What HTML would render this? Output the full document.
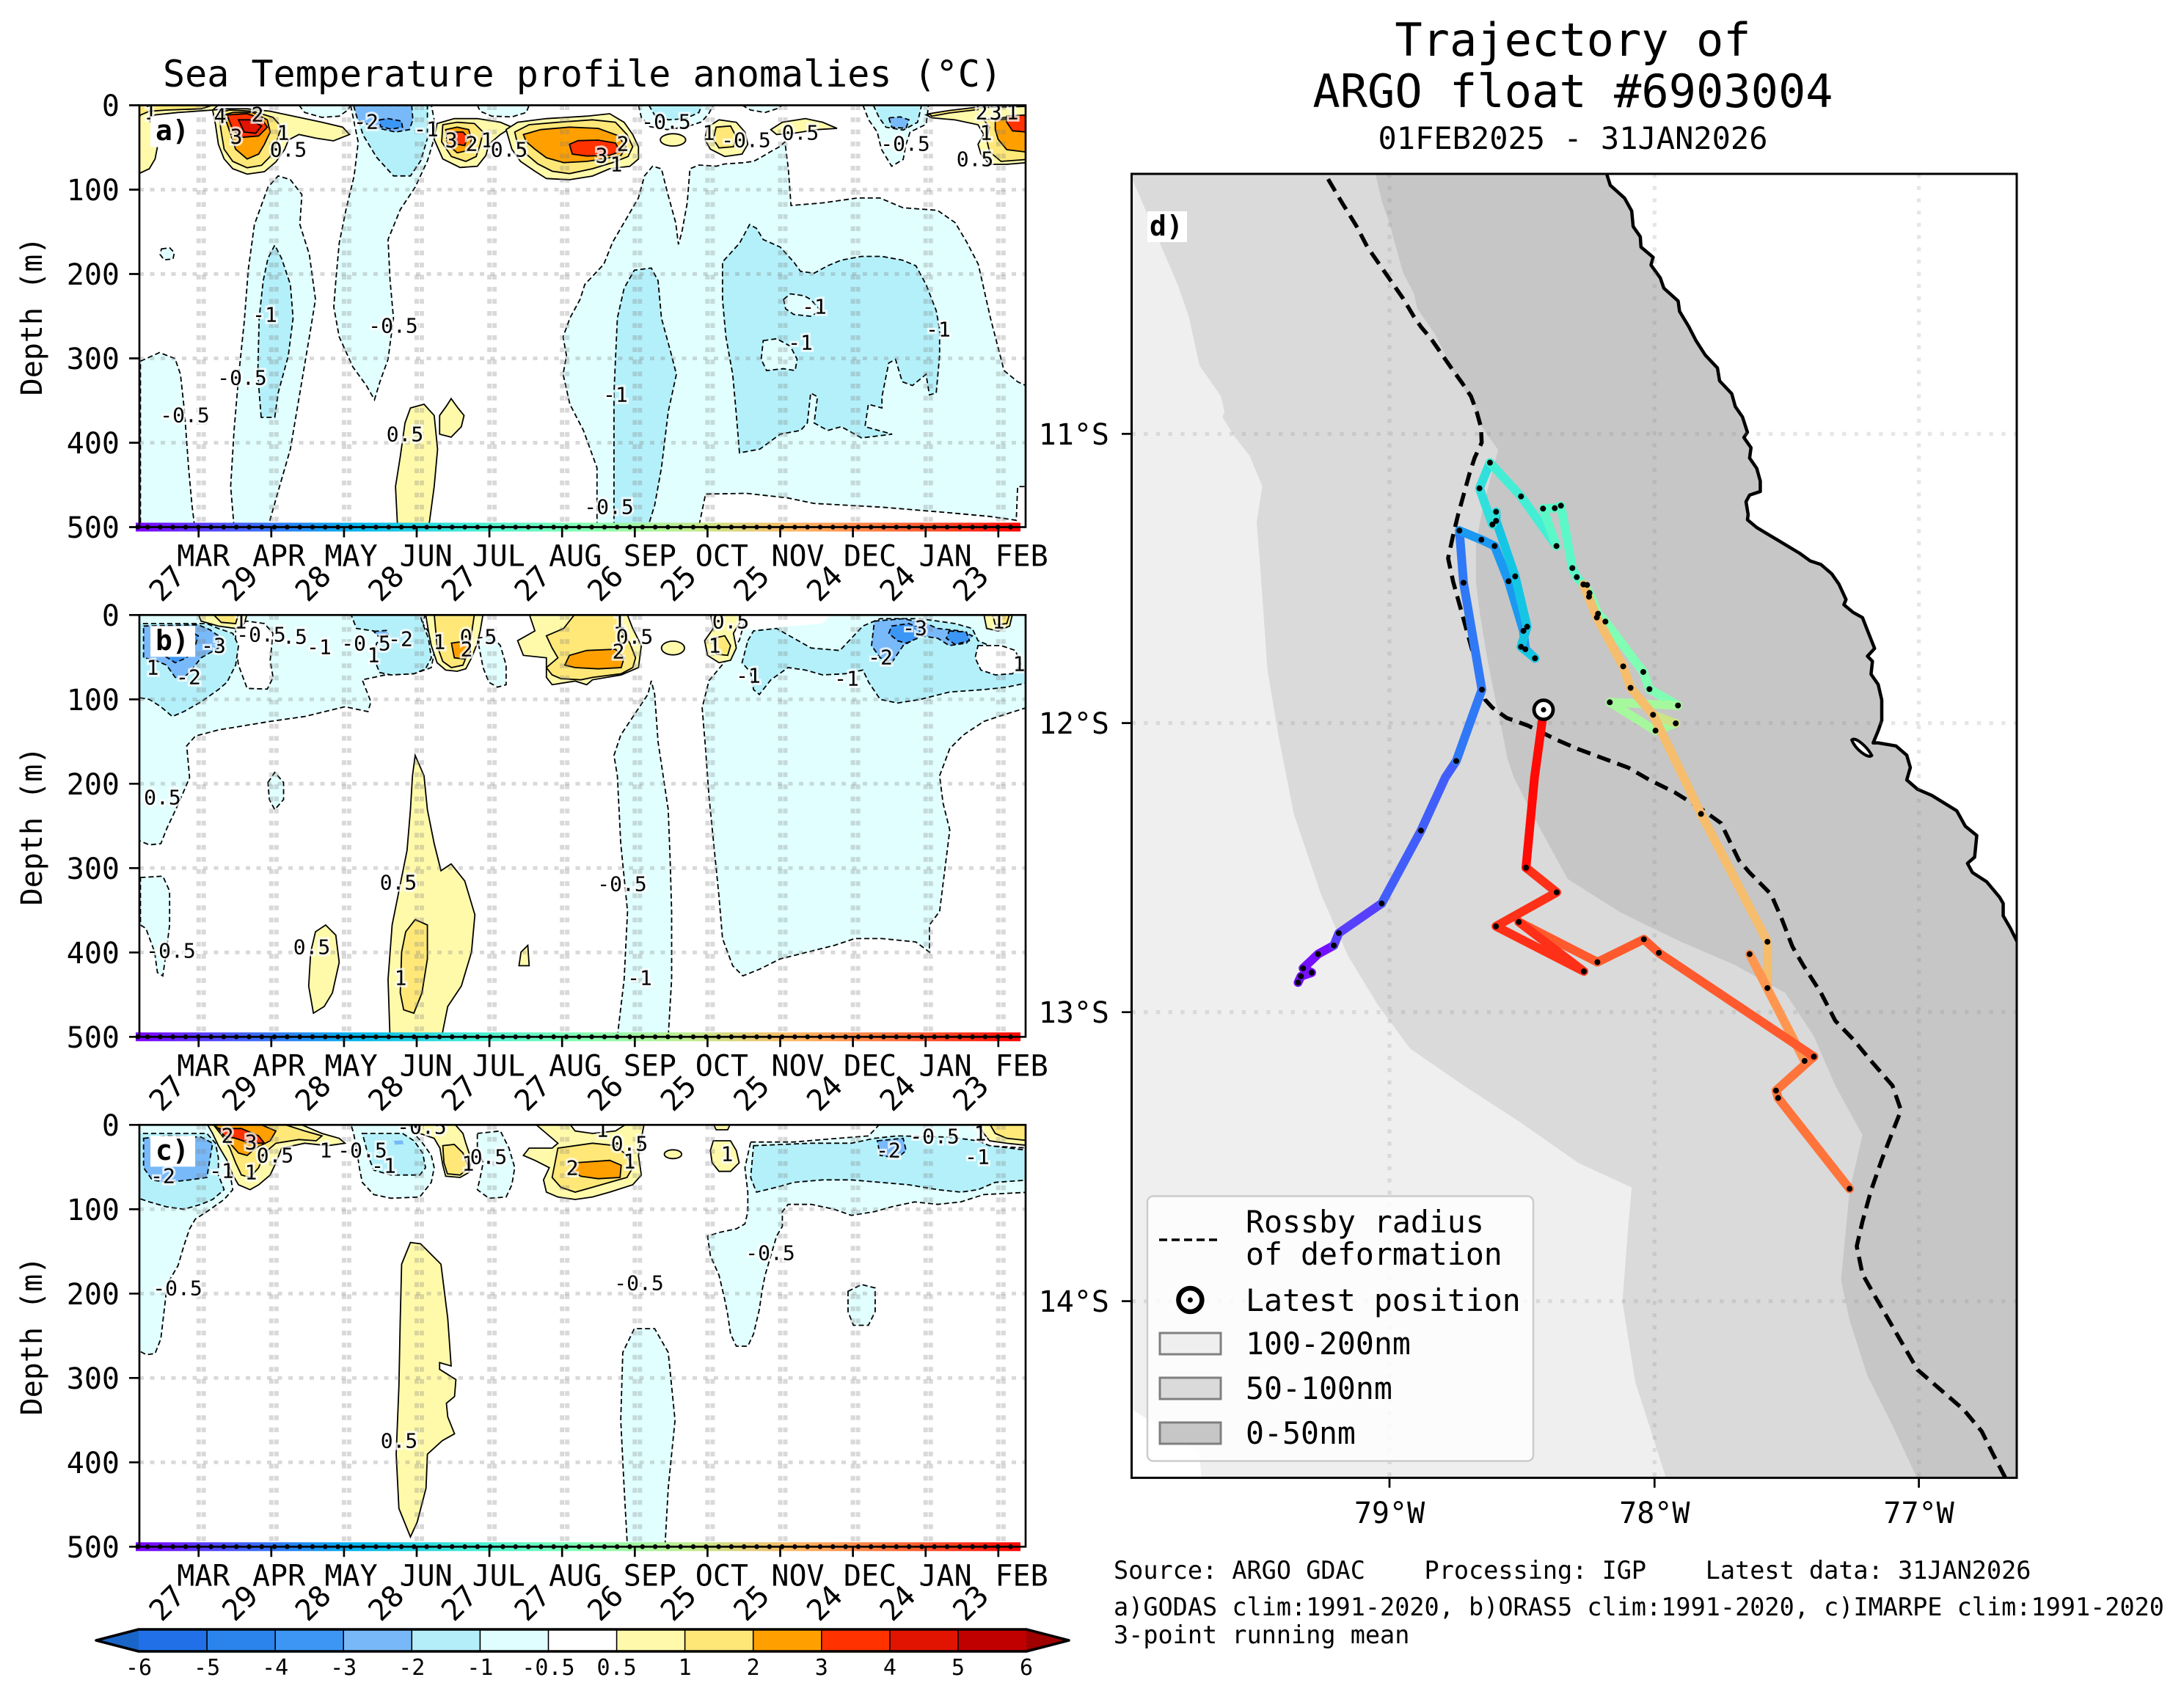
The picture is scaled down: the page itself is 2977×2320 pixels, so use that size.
<!DOCTYPE html>
<html><head><meta charset="utf-8">
<style>
html,body{margin:0;padding:0;background:#fff}
svg{display:block}
text{font-family:"DejaVu Sans Mono","Liberation Mono",monospace;fill:#000}
.n05{fill:#e1ffff}.n1{fill:#b4f0fa}.n2{fill:#78b9fa}.n3{fill:#3c96f5}
.p05{fill:#fffaaa}.p1{fill:#ffe878}.p2{fill:#ffa000}.p3{fill:#ff3200}.p4{fill:#e11400}
.wh{fill:#fff}
.neg{stroke:#000;stroke-width:1.8;stroke-dasharray:7 4;vector-effect:non-scaling-stroke}
.pos{stroke:#000;stroke-width:1.8;vector-effect:non-scaling-stroke}
.cl{font-size:28px;text-anchor:middle;dominant-baseline:central;paint-order:stroke;stroke:#fff;stroke-width:6px;stroke-opacity:.75}
.tk{font-size:40px}
.ns{vector-effect:non-scaling-stroke}
</style></head><body>
<svg xmlns="http://www.w3.org/2000/svg" width="2977" height="2320" viewBox="0 0 2977 2320">
<defs>
<linearGradient id="rb" x1="0" x2="1" y1="0" y2="0">
<stop offset="0" stop-color="#8000ff"/><stop offset="0.125" stop-color="#4062fa"/><stop offset="0.25" stop-color="#00b4ec"/><stop offset="0.375" stop-color="#40ecd4"/><stop offset="0.5" stop-color="#80ffb4"/><stop offset="0.625" stop-color="#bfec8e"/><stop offset="0.75" stop-color="#ffb462"/><stop offset="0.875" stop-color="#ff6232"/><stop offset="1" stop-color="#ff0000"/>
</linearGradient>
<clipPath id="ca"><rect x="190" y="143.5" width="1208" height="575"/></clipPath>
<clipPath id="cb"><rect x="190" y="838.3" width="1208" height="575"/></clipPath>
<clipPath id="cc"><rect x="190" y="1533.3" width="1208" height="575"/></clipPath>
<clipPath id="cm"><rect x="1542.5" y="237" width="1206.5" height="1777.4"/></clipPath>
<g id="grid" fill="none" stroke="rgba(128,128,128,0.3)">
<path stroke-width="6" stroke-dasharray="6.5 10" d="M270.7 0V575M277.7 0V575M369.8 0V575M376.8 0V575M468.9 0V575M475.9 0V575M568 0V575M575 0V575M667.1 0V575M674.1 0V575M766.2 0V575M773.2 0V575M865.3 0V575M872.3 0V575M964.4 0V575M971.4 0V575M1063.5 0V575M1070.5 0V575M1162.6 0V575M1169.6 0V575M1261.7 0V575M1268.7 0V575M1360.8 0V575M1367.8 0V575"/>
<path stroke-width="5" stroke-dasharray="6 8.5" d="M190 115H1398M190 230H1398M190 345H1398M190 460H1398"/>
</g>
<g id="axdeco">
<rect x="185" y="569" width="1206" height="12" fill="url(#rb)"/>
<line x1="187.7" y1="575" x2="188" y2="575" stroke="#000" stroke-width="6.5" stroke-linecap="round"/>
<line x1="201.1" y1="575" x2="1384" y2="575" stroke="#000" stroke-width="6.5" stroke-linecap="round" stroke-dasharray="0 17.3"/>
<rect x="190" y="0" width="1208" height="575" fill="none" stroke="#000" stroke-width="2.7"/>
<path stroke="#000" stroke-width="2.7" d="M176 0H190M176 115H190M176 230H190M176 345H190M176 460H190M176 575H190M270.7 575v14M369.8 575v14M468.9 575v14M568 575v14M667.1 575v14M766.2 575v14M865.3 575v14M964.4 575v14M1063.5 575v14M1162.6 575v14M1261.7 575v14M1360.8 575v14"/>
</g>
</defs>

<!-- ============ PANEL A ============ -->
<g clip-path="url(#ca)">
<g transform="matrix(0.924745 0 0 0.510204 0 0)">
<polygon class="n05 neg" points="207,965 235,942 258,958 266,1000 272,1100 278,1250 283,1350 287,1408 207,1408"/>
<polygon class="n05 neg" points="238,665 250,662 257,675 255,692 242,694 236,680"/>
<polygon class="n05 neg" points="345,1408 340,1300 345,1150 352,1000 360,860 366,720 375,600 395,500 410,470 428,480 445,520 442,600 456,680 465,800 456,900 442,1050 428,1200 412,1300 395,1408"/>
<polygon class="n05 neg" points="517,282 528,380 522,470 510,560 500,650 495,750 492,820 500,900 520,980 540,1030 552,1068 560,1020 572,960 580,850 575,750 572,640 590,560 612,500 630,430 640,370 640,320 636,282"/>
<polygon class="n05 neg" points="880,1408 880,1250 860,1150 840,1080 830,1000 835,950 830,900 840,850 855,800 862,760 890,706 903,647 924,582 941,529 950,470 962,444 975,451 984,516 996,595 1000,653 1005,621 1013,542 1017,451 1030,441 1056,444 1068,438 1094,435 1111,431 1124,418 1136,405 1149,392 1157,379 1162,451 1166,549 1213,542 1264,529 1297,529 1331,555 1382,562 1408,595 1425,647 1442,706 1460,850 1470,920 1480,990 1500,1020 1512,1030 1512,1300 1500,1300 1498,1390 1460,1380 1400,1370 1300,1355 1200,1345 1160,1330 1100,1318 1040,1320 1030,1408"/>
<polygon class="n1 neg" points="385,1115 380,1000 382,850 388,750 395,690 405,655 415,690 428,760 432,850 425,950 410,1050 405,1115"/>
<polygon class="n1 neg" points="522,282 535,360 555,420 580,470 605,470 620,430 630,370 630,282"/>
<polygon class="n1 neg" points="905,1408 905,1200 905,1050 910,850 920,770 935,722 960,716 970,750 975,850 990,950 997,1000 985,1100 975,1250 965,1350 955,1408"/>
<polygon class="n1 neg" points="1090,1210 1085,1100 1080,1000 1070,900 1065,800 1065,700 1075,680 1090,650 1105,600 1115,610 1125,640 1150,660 1170,700 1180,725 1200,730 1220,710 1240,695 1270,685 1300,685 1330,695 1350,710 1365,760 1380,830 1385,880 1385,950 1380,1050 1370,1055 1365,1000 1345,1030 1330,1020 1320,960 1310,970 1300,1060 1300,1090 1280,1080 1275,1140 1315,1160 1270,1170 1240,1140 1220,1150 1200,1130 1205,1060 1195,1050 1190,1130 1180,1150 1150,1160 1120,1200"/>
<polygon class="n05 neg" points="1155,800 1165,785 1185,790 1195,800 1210,830 1195,845 1170,840 1158,825"/>
<polygon class="n05 neg" points="1125,910 1145,905 1165,925 1175,960 1172,990 1155,985 1130,990 1122,960"/>
<polygon class="p05 pos" points="586,1408 583,1300 590,1220 597,1130 605,1090 625,1080 640,1110 645,1200 640,1300 632,1408"/>
<polygon class="p05 pos" points="648,1110 658,1085 665,1065 675,1090 684,1110 680,1140 665,1168 648,1160"/>
</g>
<g transform="matrix(0.784425 0 0 0.333333 180 130)">
<polygon class="n05 neg" points="290,40 300,70 330,90 360,85 375,60 380,40"/>
<polygon class="n05 neg" points="600,40 605,65 625,85 660,88 685,70 690,40"/>
<polygon class="n05 neg" points="880,40 885,90 900,128 930,140 965,128 990,108 1002,75 1010,40"/>
<polygon class="n1 neg" points="898,40 908,80 932,100 962,95 985,70 990,40"/>
<polygon class="n05 neg" points="1060,40 1075,60 1100,70 1120,55 1130,40"/>
<polygon class="n05 neg" points="1270,40 1280,100 1295,150 1302,220 1320,290 1340,262 1345,200 1352,150 1380,118 1384,40"/>
<polygon class="n1 neg" points="1288,40 1298,90 1310,130 1340,142 1365,110 1372,40"/>
<polygon class="n2 neg" points="1315,92 1320,130 1345,135 1350,100 1335,88"/>
<polygon class="n2 neg" points="385,42 392,100 420,130 458,150 482,140 488,100 486,42"/>
<polygon class="n3 neg" points="430,100 445,95 468,105 470,130 450,138 432,128"/>
<polygon class="p05 pos" points="12,40 150,40 140,60 80,70 40,80 30,100 40,140 45,200 40,260 30,300 12,320"/>
<polygon class="p1 pos" points="12,40 140,40 120,55 60,60 30,65 15,80 12,90"/>
<polygon class="p05 pos" points="140,60 145,120 150,200 160,260 175,300 200,322 230,312 250,272 265,222 272,182 290,160 320,175 350,186 378,160 366,130 330,110 300,95 270,80 240,65 200,55 165,55"/>
<polygon class="p1 pos" points="150,70 155,150 160,220 175,270 200,296 225,286 240,250 250,200 255,160 260,130 245,90 210,65 170,60"/>
<polygon class="p2 pos" points="160,80 170,150 180,220 200,260 220,240 230,200 240,150 235,100 210,70 175,70"/>
<polygon class="p3 pos" points="165,80 175,140 190,172 220,166 235,130 225,95 200,75"/>
<polygon class="p4 pos" points="185,100 195,150 215,155 225,125 205,100"/>
<polygon class="p05 pos" points="530,115 525,180 540,260 570,295 600,290 615,245 620,200 640,160 660,130 640,110 600,95 560,95"/>
<polygon class="p1 pos" points="540,120 538,190 555,250 580,270 598,250 605,200 610,150 595,115 565,110"/>
<polygon class="p2 pos" points="545,140 548,200 565,235 585,225 590,180 585,140 565,130"/>
<polygon class="p3 pos" points="560,150 565,200 578,205 583,170 575,150"/>
<polygon class="p05 pos" points="650,140 670,110 720,95 790,85 830,75 855,110 870,160 880,210 880,260 865,290 830,300 800,330 760,345 720,340 700,310 675,270 660,220 655,180"/>
<polygon class="p1 pos" points="665,150 690,120 740,110 800,100 840,110 860,160 870,210 862,250 835,275 800,300 760,320 730,310 705,280 685,240 670,200"/>
<polygon class="p2 pos" points="680,160 710,140 760,130 810,135 845,165 858,210 850,245 820,260 790,270 750,275 720,255 700,220 685,190"/>
<polygon class="p3 pos" points="760,200 775,185 810,183 840,195 848,230 830,245 790,248 765,240"/>
<ellipse class="p05 pos" cx="940" cy="182" rx="22" ry="25"/>
<polygon class="p05 pos" points="1000,130 1020,100 1050,110 1065,150 1070,200 1060,240 1030,250 1005,220 995,180"/>
<polygon class="p1 pos" points="1015,130 1040,125 1050,170 1045,210 1020,215 1010,180"/>
<polygon class="p05 pos" points="1110,140 1130,110 1170,95 1200,110 1225,135 1190,140 1150,155 1120,160"/>
<polygon class="p05 pos" points="1380,80 1430,65 1470,50 1555,45 1555,275 1520,282 1490,282 1475,240 1470,200 1480,160 1470,120 1430,100 1390,92"/>
<polygon class="p1 pos" points="1480,100 1555,80 1555,262 1510,270 1490,230 1485,180 1490,130"/>
<polygon class="p2 pos" points="1500,100 1555,90 1555,232 1520,222 1505,180 1500,140"/>
<polygon class="p3 pos" points="1520,85 1555,80 1555,150 1530,145 1520,110"/>
<polygon class="p1 pos" points="1385,75 1420,62 1470,48 1470,58 1420,72 1390,85"/>
</g>
<use href="#grid" y="143.5"/>
<g class="cl">
<text x="205" y="153">1</text><text x="300" y="158">4</text><text x="351" y="156">2</text><text x="322" y="186">3</text><text x="386" y="181">1</text><text x="393" y="204">0.5</text>
<text x="499" y="166">-2</text><text x="581" y="176">-1</text><text x="615" y="191">3</text><text x="643" y="196">2</text><text x="664" y="191">1</text><text x="694" y="204">0.5</text>
<text x="820" y="212">3</text><text x="840" y="224">1</text><text x="849" y="196">2</text><text x="908" y="166">-0.5</text><text x="966" y="181">1</text><text x="1017" y="191">-0.5</text><text x="1091" y="181">0.5</text>
<text x="1234" y="196">-0.5</text><text x="1329" y="217">0.5</text><text x="1338" y="153">2</text><text x="1357" y="153">3</text><text x="1380" y="153">1</text><text x="1344" y="181">1</text>
<text x="1110" y="418">-1</text><text x="1091" y="467">-1</text><text x="1279" y="449">-1</text><text x="361" y="429">-1</text><text x="536" y="444">-0.5</text><text x="330" y="515">-0.5</text><text x="252" y="566">-0.5</text>
<text x="552" y="592">0.5</text><text x="839" y="538">-1</text><text x="830" y="691">-0.5</text>
</g>
</g>
<use href="#axdeco" y="143.5"/>
<rect x="205" y="158.5" width="61" height="42" fill="#fff"/>
<text x="212" y="191" font-size="38" font-weight="bold">a)</text>

<!-- ============ PANEL B ============ -->
<g clip-path="url(#cb)">
<g transform="matrix(0.924745 0 0 0.924745 0 780)">
<polygon class="n05 neg" points="1100,63 1512,63 1512,200 1480,210 1450,220 1420,240 1400,260 1385,300 1390,340 1400,380 1395,420 1390,460 1385,500 1370,520 1370,560 1350,545 1300,540 1260,540 1230,550 1190,560 1150,570 1120,585 1095,595 1080,580 1065,540 1060,480 1055,430 1050,380 1045,330 1040,260 1035,200 1045,160 1070,130 1090,100"/>
<polygon class="n05 neg" points="910,685 920,600 925,500 915,400 910,300 905,270 915,240 935,210 955,180 960,160 965,180 970,250 985,350 988,430 990,500 990,600 985,685"/>
<polygon class="n05 neg" points="207,450 240,448 250,470 250,520 245,560 240,595 232,590 228,560 215,525 207,520"/>
<polygon class="n05 neg" points="395,310 405,295 418,310 418,335 405,350 397,335"/>
<polygon class="p05 pos" points="455,610 458,560 465,530 480,520 495,535 500,575 490,620 478,640 462,650"/>
<polygon class="p05 pos" points="575,690 572,600 578,520 590,460 600,410 605,350 608,300 612,270 625,300 630,350 640,400 650,440 665,430 685,455 700,505 695,560 680,610 660,640 650,690"/>
<polygon class="p1 pos" points="590,620 592,560 598,530 612,512 630,520 630,570 622,620 610,650 595,645"/>
<polygon class="p05 pos" points="765,580 768,560 778,550 780,580"/>
</g>
<g transform="matrix(0.784425 0 0 0.333333 180 830)">
<polygon class="n05 neg" points="5,20 510,20 505,60 520,110 525,180 520,240 490,265 440,270 400,290 415,380 410,420 370,400 300,440 240,460 150,495 110,520 95,560 100,690 80,800 60,900 50,960 30,965 5,940"/>
<polygon class="wh neg" points="180,60 200,50 230,60 245,100 240,210 245,280 235,328 200,325 185,230 180,150"/>
<polygon class="n1 neg" points="5,60 130,60 150,80 175,100 185,150 180,230 165,300 150,330 120,380 90,420 70,440 50,400 30,370 5,360"/>
<polygon class="n2 neg" points="20,70 115,65 135,85 150,110 150,160 120,200 100,260 85,290 75,280 60,230 40,210 20,200"/>
<polygon class="n3 neg" points="40,100 100,90 115,110 110,150 95,200 75,220 55,190 40,150"/>
<polygon class="n1 neg" points="380,20 500,20 505,60 515,120 520,200 510,245 490,265 450,270 430,260 420,200 425,140 440,110 420,90 390,80"/>
<polygon class="n2 neg" points="420,92 442,88 446,106 428,112"/>
<polygon class="n05 neg" points="600,120 625,110 640,150 650,230 650,310 635,320 620,300 610,240 605,180"/>
<polygon class="wh" points="1060,20 1215,20 1200,60 1120,75 1075,85 1062,60"/>
<polygon class="n1 neg" points="1070,130 1080,90 1120,80 1150,120 1180,160 1230,170 1270,70 1300,40 1370,40 1430,60 1460,80 1470,130 1500,160 1520,200 1550,250 1560,300 1520,320 1480,330 1420,340 1370,370 1330,385 1300,370 1280,300 1270,250 1240,265 1200,270 1170,250 1140,240 1110,290 1090,350 1080,330 1075,260 1060,220"/>
<polygon class="n2 neg" points="1290,50 1340,40 1380,60 1400,80 1440,90 1460,110 1450,140 1420,150 1400,120 1370,110 1340,150 1320,220 1300,200 1285,150"/>
<polygon class="n3 neg" points="1320,70 1350,60 1370,80 1365,120 1345,140 1330,130 1315,100"/>
<polygon class="n3 neg" points="1420,90 1450,95 1455,130 1430,145 1415,120"/>
<polygon class="wh neg" points="1470,150 1510,150 1535,170 1545,230 1530,265 1500,270 1475,250 1465,200"/>
<polygon class="p05 pos" points="115,20 200,20 195,60 180,80 150,70 120,50"/>
<polygon class="p1 pos" points="140,20 185,20 180,60 155,55"/>
<polygon class="p05 pos" points="510,20 610,20 605,90 600,140 590,200 580,245 565,255 545,250 530,220 520,150 515,90"/>
<polygon class="p1 pos" points="525,20 595,20 590,100 585,170 575,230 555,240 540,215 530,150"/>
<polygon class="p2 pos" points="555,140 585,130 588,175 578,205 560,200"/>
<polygon class="p05 pos" points="690,20 860,20 870,80 885,150 880,240 850,270 800,290 790,310 770,295 730,310 720,280 720,200 680,190 670,130 700,90"/>
<polygon class="p1 pos" points="770,20 845,20 850,90 865,140 875,200 870,240 850,265 800,280 780,290 745,285 730,270 720,240 740,200 730,160 720,110 750,80"/>
<polygon class="p2 pos" points="760,190 790,170 840,165 855,200 850,240 810,245 770,240 752,230"/>
<ellipse class="p05 pos" cx="940" cy="160" rx="20" ry="28"/>
<polygon class="p05 pos" points="1005,20 1060,20 1055,60 1045,100 1050,160 1040,210 1020,220 1000,190 995,130 1010,80"/>
<polygon class="p1 pos" points="1010,120 1030,110 1040,150 1035,190 1015,185"/>
<polygon class="p05 pos" points="1480,20 1530,20 1525,70 1505,90 1485,80"/>
<polygon class="p1 pos" points="1495,20 1525,20 1520,60 1500,65"/>
</g>
<use href="#grid" y="838.3"/>
<g class="cl">
<text x="328" y="847">1</text><text x="356" y="865">-0.5</text><text x="402" y="868">.5</text><text x="435" y="882">-1</text><text x="499" y="877">-0.5</text><text x="546" y="871">-2</text><text x="509" y="893">1</text>
<text x="291" y="880">-3</text><text x="208" y="910">1</text><text x="257" y="923">-2</text><text x="599" y="875">1</text><text x="652" y="868">0.5</text><text x="636" y="885">2</text>
<text x="844" y="847">1</text><text x="865" y="868">0.5</text><text x="843" y="888">2</text><text x="996" y="847">0.5</text><text x="974" y="880">1</text>
<text x="1020" y="921">-1</text><text x="1154" y="925">-1</text><text x="1200" y="896">-2</text><text x="1247" y="856">-3</text><text x="1361" y="847">1</text><text x="1389" y="905">1</text>
<text x="213" y="1087">-0.5</text><text x="543" y="1203">0.5</text><text x="848" y="1205">-0.5</text><text x="425" y="1291">0.5</text><text x="233" y="1296">-0.5</text><text x="546" y="1333">1</text><text x="872" y="1333">-1</text>
</g>
</g>
<use href="#axdeco" y="838.3"/>
<rect x="205" y="853.3" width="61" height="42" fill="#fff"/>
<text x="212" y="886" font-size="38" font-weight="bold">b)</text>

<!-- ============ PANEL C ============ -->
<g clip-path="url(#cc)">
<g transform="matrix(0.924745 0 0 0.924745 0 780)">
<polygon class="n05 neg" points="925,1440 920,1350 915,1250 918,1150 935,1115 965,1115 985,1150 990,1200 995,1250 985,1350 980,1440"/>
<polygon class="n05 neg" points="1250,1060 1270,1050 1290,1055 1290,1090 1280,1110 1258,1110 1250,1090"/>
<polygon class="p05 pos" points="605,1422 588,1380 584,1300 588,1200 590,1100 592,1020 605,988 620,990 650,1020 660,1100 665,1170 648,1165 648,1175 672,1190 670,1215 658,1225 660,1245 670,1270 652,1280 630,1300 628,1350 615,1400"/>
</g>
<g transform="matrix(0.784425 0 0 0.333333 180 1525)">
<polygon class="n05 neg" points="5,20 180,20 175,60 160,100 165,150 170,220 175,290 160,330 130,380 110,410 100,450 90,520 80,600 65,660 60,700 55,800 50,900 40,960 25,965 5,940"/>
<polygon class="n1 neg" points="5,60 130,60 145,100 150,160 150,230 160,290 140,330 120,350 90,370 60,360 30,340 5,320"/>
<polygon class="n2 neg" points="20,80 60,70 120,75 140,100 135,170 130,240 100,250 60,260 35,250 20,200"/>
<polygon class="n05 neg" points="380,20 480,20 490,60 505,100 520,150 525,200 520,260 500,320 450,325 420,310 400,260 395,200 390,120 385,60"/>
<polygon class="n1 neg" points="400,60 470,60 490,90 505,140 510,200 500,230 450,230 420,210 410,150 405,100"/>
<polygon class="n2" points="455,90 470,88 472,104 457,106"/>
<polygon class="n05 neg" points="600,60 640,50 655,120 665,200 660,270 650,320 620,325 600,290 605,240 610,180 600,120"/>
<polygon class="n05 neg" points="1075,95 1150,95 1200,85 1280,70 1300,20 1470,20 1480,110 1560,120 1560,300 1480,310 1440,340 1400,350 1360,340 1320,360 1290,380 1250,395 1220,370 1180,350 1140,350 1130,380 1130,440 1120,480 1110,560 1100,640 1095,700 1090,780 1080,880 1070,930 1050,930 1040,880 1035,800 1030,740 1020,640 1005,560 1000,480 1020,465 1050,450 1065,430 1070,380 1070,300 1065,200"/>
<polygon class="n1 neg" points="1080,110 1180,100 1250,100 1290,80 1330,70 1420,75 1470,90 1490,110 1560,130 1560,250 1500,260 1470,290 1440,300 1400,290 1350,270 1300,260 1250,250 1200,250 1150,260 1120,280 1085,300 1075,240 1078,160"/>
<polygon class="n2 neg" points="1295,90 1340,80 1345,130 1330,160 1300,150"/>
<polygon class="p05 pos" points="130,20 290,20 330,60 360,80 370,100 340,110 300,100 260,120 250,180 240,230 220,270 205,290 185,270 175,230 165,170 150,110 140,60"/>
<polygon class="p1 pos" points="140,20 260,20 300,50 330,70 320,90 290,85 250,100 230,140 220,200 205,240 190,230 180,180 170,120 160,80"/>
<polygon class="p2 pos" points="140,20 220,20 250,50 240,90 215,120 200,150 185,140 170,100 160,60"/>
<polygon class="p3 pos" points="150,40 190,40 220,70 230,100 205,100 180,80 160,70"/>
<polygon class="p05 pos" points="490,20 560,20 575,60 580,100 590,170 585,220 570,240 545,235 540,190 535,120 525,80 500,60"/>
<polygon class="p1 pos" points="540,110 560,105 575,140 585,200 570,230 548,225 542,180"/>
<polygon class="p05 pos" points="700,20 760,20 770,50 800,60 840,50 860,20 890,20 885,80 880,150 885,230 870,270 830,300 800,320 770,330 740,320 720,300 715,250 725,200 700,170 680,150 690,120 730,120 740,100 720,60"/>
<polygon class="p1 pos" points="740,120 800,100 840,110 860,150 870,200 860,240 830,260 800,280 770,300 745,280 730,240 735,180"/>
<polygon class="p2 pos" points="770,180 830,170 850,190 848,240 810,245 780,235 765,215"/>
<ellipse class="p05 pos" cx="940" cy="145" rx="15" ry="18"/>
<polygon class="p05 pos" points="1010,90 1040,90 1050,130 1055,180 1040,215 1020,215 1008,180 1005,130"/>
<polygon class="p05 pos" points="1010,20 1040,20 1035,45 1015,45"/>
<polygon class="p05 pos" points="1470,20 1560,20 1560,110 1520,100 1490,90 1480,60"/>
<polygon class="p1 pos" points="1490,20 1560,20 1560,90 1520,80 1500,60"/>
</g>
<use href="#grid" y="1533.3"/>
<g class="cl">
<text x="310" y="1548">2</text><text x="342" y="1557">3</text><text x="375" y="1575">0.5</text><text x="444" y="1568">1</text><text x="494" y="1568">-0.5</text><text x="523" y="1589">-1</text><text x="342" y="1598">1</text><text x="302" y="1596">-1</text><text x="222" y="1603">-2</text>
<text x="575" y="1536">-0.5</text><text x="638" y="1586">1</text><text x="666" y="1577">0.5</text>
<text x="821" y="1540">1</text><text x="858" y="1559">0.5</text><text x="780" y="1592">2</text><text x="858" y="1583">1</text><text x="991" y="1573">1</text>
<text x="1211" y="1568">-2</text><text x="1274" y="1549">-0.5</text><text x="1336" y="1545">1</text><text x="1332" y="1577">-1</text>
<text x="242" y="1756">-0.5</text><text x="871" y="1749">-0.5</text><text x="1050" y="1708">-0.5</text><text x="544" y="1964">0.5</text>
</g>
</g>
<use href="#axdeco" y="1533.3"/>
<rect x="205" y="1548.3" width="61" height="42" fill="#fff"/>
<text x="212" y="1581" font-size="38" font-weight="bold">c)</text>

<!-- ============ LEFT AXIS TEXT ============ -->
<text x="794" y="118" font-size="50" text-anchor="middle">Sea Temperature profile anomalies (°C)</text>
<g class="tk" text-anchor="end">
<text x="163" y="158">0</text><text x="163" y="273">100</text><text x="163" y="388">200</text><text x="163" y="503">300</text><text x="163" y="618">400</text><text x="163" y="733">500</text>
<text x="163" y="853">0</text><text x="163" y="968">100</text><text x="163" y="1083">200</text><text x="163" y="1198">300</text><text x="163" y="1313">400</text><text x="163" y="1428">500</text>
<text x="163" y="1548">0</text><text x="163" y="1663">100</text><text x="163" y="1778">200</text><text x="163" y="1893">300</text><text x="163" y="2008">400</text><text x="163" y="2123">500</text>
</g>
<g class="tk" text-anchor="middle">
<text transform="translate(57,431) rotate(-90)">Depth (m)</text>
<text transform="translate(57,1126) rotate(-90)">Depth (m)</text>
<text transform="translate(57,1821) rotate(-90)">Depth (m)</text>
</g>
<g class="tk" text-anchor="middle">
<g transform="translate(0,771.5)"><text x="277.4">MAR</text><text x="380.1">APR</text><text x="478.6">MAY</text><text x="580.7">JUN</text><text x="679.7">JUL</text><text x="784.2">AUG</text><text x="885.9">SEP</text><text x="983.9">OCT</text><text x="1087.5">NOV</text><text x="1186">DEC</text><text x="1288.6">JAN</text><text x="1392.6">FEB</text></g>
<g transform="translate(0,1466.3)"><text x="277.4">MAR</text><text x="380.1">APR</text><text x="478.6">MAY</text><text x="580.7">JUN</text><text x="679.7">JUL</text><text x="784.2">AUG</text><text x="885.9">SEP</text><text x="983.9">OCT</text><text x="1087.5">NOV</text><text x="1186">DEC</text><text x="1288.6">JAN</text><text x="1392.6">FEB</text></g>
<g transform="translate(0,2161.3)"><text x="277.4">MAR</text><text x="380.1">APR</text><text x="478.6">MAY</text><text x="580.7">JUN</text><text x="679.7">JUL</text><text x="784.2">AUG</text><text x="885.9">SEP</text><text x="983.9">OCT</text><text x="1087.5">NOV</text><text x="1186">DEC</text><text x="1288.6">JAN</text><text x="1392.6">FEB</text></g>
</g>
<g class="tk" text-anchor="end">
<g transform="translate(0,788)">
<text transform="translate(254.3,0) rotate(-45)">27</text><text transform="translate(353.9,0) rotate(-45)">29</text><text transform="translate(453.5,0) rotate(-45)">28</text><text transform="translate(553.1,0) rotate(-45)">28</text><text transform="translate(652.7,0) rotate(-45)">27</text><text transform="translate(752.3,0) rotate(-45)">27</text><text transform="translate(851.9,0) rotate(-45)">26</text><text transform="translate(951.5,0) rotate(-45)">25</text><text transform="translate(1051.1,0) rotate(-45)">25</text><text transform="translate(1150.7,0) rotate(-45)">24</text><text transform="translate(1250.3,0) rotate(-45)">24</text><text transform="translate(1349.9,0) rotate(-45)">23</text>
</g>
<g transform="translate(0,1482.8)">
<text transform="translate(254.3,0) rotate(-45)">27</text><text transform="translate(353.9,0) rotate(-45)">29</text><text transform="translate(453.5,0) rotate(-45)">28</text><text transform="translate(553.1,0) rotate(-45)">28</text><text transform="translate(652.7,0) rotate(-45)">27</text><text transform="translate(752.3,0) rotate(-45)">27</text><text transform="translate(851.9,0) rotate(-45)">26</text><text transform="translate(951.5,0) rotate(-45)">25</text><text transform="translate(1051.1,0) rotate(-45)">25</text><text transform="translate(1150.7,0) rotate(-45)">24</text><text transform="translate(1250.3,0) rotate(-45)">24</text><text transform="translate(1349.9,0) rotate(-45)">23</text>
</g>
<g transform="translate(0,2177.8)">
<text transform="translate(254.3,0) rotate(-45)">27</text><text transform="translate(353.9,0) rotate(-45)">29</text><text transform="translate(453.5,0) rotate(-45)">28</text><text transform="translate(553.1,0) rotate(-45)">28</text><text transform="translate(652.7,0) rotate(-45)">27</text><text transform="translate(752.3,0) rotate(-45)">27</text><text transform="translate(851.9,0) rotate(-45)">26</text><text transform="translate(951.5,0) rotate(-45)">25</text><text transform="translate(1051.1,0) rotate(-45)">25</text><text transform="translate(1150.7,0) rotate(-45)">24</text><text transform="translate(1250.3,0) rotate(-45)">24</text><text transform="translate(1349.9,0) rotate(-45)">23</text>
</g>
</g>

<!-- ============ COLORBAR ============ -->
<polygon points="189,2221 131,2236 189,2251" fill="#1a66c8"/>
<polygon points="1399,2221 1457,2236 1399,2251" fill="#a00000"/>
<rect x="189" y="2221" width="93.1" height="30" fill="#2170e8"/>
<rect x="282.1" y="2221" width="93.1" height="30" fill="#2a84ec"/>
<rect x="375.2" y="2221" width="93.1" height="30" fill="#3d96f4"/>
<rect x="468.2" y="2221" width="93.1" height="30" fill="#78b8f8"/>
<rect x="561.3" y="2221" width="93.1" height="30" fill="#b4eef8"/>
<rect x="654.4" y="2221" width="93.1" height="30" fill="#e0feff"/>
<rect x="747.5" y="2221" width="93.1" height="30" fill="#ffffff"/>
<rect x="840.6" y="2221" width="93.1" height="30" fill="#fff9ab"/>
<rect x="933.6" y="2221" width="93.1" height="30" fill="#ffe777"/>
<rect x="1026.7" y="2221" width="93.1" height="30" fill="#ffa000"/>
<rect x="1119.8" y="2221" width="93.1" height="30" fill="#ff3200"/>
<rect x="1212.9" y="2221" width="93.1" height="30" fill="#e01400"/>
<rect x="1305.9" y="2221" width="93.1" height="30" fill="#c00000"/>
<path stroke="#000" stroke-width="1.6" d="M282.1 2221v30M375.2 2221v30M468.2 2221v30M561.3 2221v30M654.4 2221v30M747.5 2221v30M840.6 2221v30M933.6 2221v30M1026.7 2221v30M1119.8 2221v30M1212.9 2221v30M1305.9 2221v30"/>
<polygon points="131,2236 189,2221 1399,2221 1457,2236 1399,2251 189,2251" fill="none" stroke="#000" stroke-width="3.5" stroke-linejoin="round"/>
<g font-size="30" text-anchor="middle">
<text x="189" y="2283">-6</text><text x="282.1" y="2283">-5</text><text x="375.2" y="2283">-4</text><text x="468.2" y="2283">-3</text><text x="561.3" y="2283">-2</text><text x="654.4" y="2283">-1</text><text x="747.5" y="2283">-0.5</text><text x="840.6" y="2283">0.5</text><text x="933.6" y="2283">1</text><text x="1026.7" y="2283">2</text><text x="1119.8" y="2283">3</text><text x="1212.9" y="2283">4</text><text x="1305.9" y="2283">5</text><text x="1399" y="2283">6</text>
</g>

<!-- ============ MAP ============ -->
<text x="2144" y="76" font-size="62" text-anchor="middle">Trajectory of</text>
<text x="2144" y="146" font-size="62" text-anchor="middle">ARGO float #6903004</text>
<text x="2144" y="203" font-size="42" text-anchor="middle">01FEB2025 - 31JAN2026</text>

<g clip-path="url(#cm)">
<rect x="1542.5" y="237" width="1206.5" height="1777.4" fill="#efefef"/>
<g transform="matrix(0.973806 0 0 0.701508 1450 0)">
<polygon fill="#dadada" points="95,330 95,345 140,490 160,555 175,615 190,710 220,770 225,800 222,810 240,850 260,885 278,945 270,1015 275,1100 280,1200 285,1300 300,1425.5 322,1581.5 360,1737.5 398,1857.5 440,1953.5 485,2037.5 560,2109.5 640,2181.5 720,2259.5 795,2307.5 790,2385.5 782,2529.5 800,2685.5 845,2880 1340,2880 1340,330"/>
<polygon fill="#fff" points="90,2733.5 190,2823.5 193,2880 90,2880"/>
<polygon fill="#c6c6c6" points="435,330 445,390 455,430 465,480 475,530 490,570 495,600 520,650 545,720 575,790 584,827 608,874 596,936 585,998 577,1055 577,1131 582,1188 592,1273 602,1345 613,1416 621,1473 630,1511 665,1605.5 705,1707.5 780,1773.5 860,1827.5 940,1875.5 1010,1929.5 1050,2013.5 1080,2109.5 1118,2205.5 1100,2313.5 1088,2487.5 1100,2565.5 1125,2673.5 1160,2769.5 1197,2880 1340,2880 1340,330"/>
<polygon fill="#fff" points="760,330 765,360 785,385 795,410 797,440 807,460 808,480 825,500 822,515 835,540 840,560 860,585 862,605 875,635 885,662 898,690 915,715 918,740 935,765 940,790 950,810 957,840 952,850 962,870 960,890 970,910 975,935 975,955 960,962 955,975 958,1000 957,1010 970,1025 1000,1050 1030,1075 1045,1090 1060,1097 1075,1115 1085,1135 1090,1150 1095,1165 1092,1175 1105,1190 1118,1200 1125,1225 1135,1260 1125,1275 1132,1285 1130,1310 1140,1330 1145,1360 1145,1400 1140,1420 1133,1443.5 1140,1443.5 1165,1449.5 1180,1467.5 1185,1491.5 1180,1515.5 1195,1533.5 1215,1545.5 1250,1575.5 1262,1605.5 1278,1623.5 1275,1665.5 1265,1677.5 1272,1695.5 1292,1713.5 1310,1743.5 1315,1755.5 1315,1779.5 1325,1803.5 1340,1845 1340,330"/>
<polyline class="ns" fill="none" stroke="#000" stroke-width="4.5" stroke-linejoin="round" points="758,330 760,338 765,360 785,385 795,410 797,440 807,460 808,480 825,500 822,515 835,540 840,560 860,585 862,605 875,635 885,662 898,690 915,715 918,740 935,765 940,790 950,810 957,840 952,850 962,870 960,890 970,910 975,935 975,955 960,962 955,975 958,1000 957,1010 970,1025 1000,1050 1030,1075 1045,1090 1060,1097 1075,1115 1085,1135 1090,1150 1095,1165 1092,1175 1105,1190 1118,1200 1125,1225 1135,1260 1125,1275 1132,1285 1130,1310 1140,1330 1145,1360 1145,1400 1140,1420 1133,1443.5 1140,1443.5 1165,1449.5 1180,1467.5 1185,1491.5 1180,1515.5 1195,1533.5 1215,1545.5 1250,1575.5 1262,1605.5 1278,1623.5 1275,1665.5 1265,1677.5 1272,1695.5 1292,1713.5 1310,1743.5 1315,1755.5 1315,1779.5 1325,1803.5 1340,1845"/>
<path class="ns" fill="#fff" stroke="#000" stroke-width="4" d="M1103,1438 C1108,1430 1125,1452 1131,1468 C1127,1475 1109,1458 1103,1438 Z"/>
</g>
<g fill="none" stroke="rgba(128,128,128,0.2)" stroke-width="5.3" stroke-dasharray="5.3 11.4">
<path d="M1894 237V2015M2255.3 237V2015M2615.6 237V2015M1542.5 591.4H2749M1542.5 985.6H2749M1542.5 1379.7H2749M1542.5 1773.6H2749"/>
</g>
<g transform="matrix(0.973806 0 0 0.701508 1450 0)" fill="none" stroke-linecap="round" stroke-linejoin="round">
<polyline class="ns" stroke="#000" stroke-width="5.5" stroke-dasharray="19 10" stroke-linecap="butt" points="370,348 390,395 410,440 425,480 440,510 460,550 475,580 490,615 500,635 515,660 530,690 545,720 558,745 570,770 578,800 584,830 585,860 575,890 568,920 560,960 552,1000 545,1040 538,1085 545,1130 555,1180 565,1230 575,1280 583,1330 590,1360 600,1375 620,1395 650,1410 690,1437.5 720,1455.5 755,1473.5 790,1491.5 820,1515.5 855,1539.5 890,1569.5 920,1599.5 945,1671.5 960,1695.5 990,1737.5 1005,1785.5 1020,1839.5 1035,1875.5 1060,1929.5 1080,1983.5 1105,2019.5 1130,2061.5 1160,2109.5 1172,2157.5 1160,2199.5 1145,2253.5 1130,2313.5 1118,2373.5 1110,2421.5 1118,2475.5 1135,2517.5 1150,2553.5 1170,2601.5 1195,2661.5 1225,2697.5 1260,2739.5 1285,2781.5 1300,2823.5 1318,2871.5 1322,2885"/>
<g class="ns" stroke-width="12">
<polyline class="ns" stroke="#7510ff" points="328,1909.1 332,1897.1 347,1889.9 335,1881.5 356,1853.9 378,1837.1"/>
<polyline class="ns" stroke="#5740fd" points="378,1837.1 385,1813.1 445,1755.5"/>
<polyline class="ns" stroke="#425efa" points="445,1755.5 500,1613.9 534,1511 549.4,1478.7"/>
<polyline class="ns" stroke="#3079f6" points="549.4,1478.7 585.3,1340 559.6,1132.3 553.8,1031"/>
<polyline class="ns" stroke="#1a98f2" points="553.8,1031 584.6,1048.7 603.1,1061 622.6,1129.4 643.5,1225.9 646.2,1261.5 659.6,1279.1"/>
<polyline class="ns" stroke="#14c6e4" points="659.6,1279.1 640.1,1256.8 648.6,1217.8 631.9,1119.9 605.2,1012.1 605.2,994.5"/>
<polyline class="ns" stroke="#30e0dc" points="605.2,994.5 600,1019.2 581.9,948.9 596.6,899"/>
<polyline class="ns" stroke="#44eed4" points="596.6,899 640.1,964.6 689.7,1061"/>
<polyline class="ns" stroke="#5cf8c8" points="689.7,1061 670.9,988.3 687.3,987.4 695.9,982.6 711.9,1103.8 718.1,1121.4 727.4,1135.6"/>
<polyline class="ns" stroke="#80ffb4" points="727.4,1135.6 735.9,1152.2 747.9,1192.6 758.2,1207.8 811.2,1305.7 819.8,1339 859.8,1370.8"/>
<polyline class="ns" stroke="#a6f89c" points="859.8,1370.8 764.3,1364.6 828.3,1419.7 856.7,1405.5"/>
<polyline class="ns" stroke="#cce386" points="856.7,1405.5 824.9,1388.9 793.4,1336.6 783.1,1294.8 746.2,1199.8 727.4,1135.6"/>
<polyline class="ns" stroke="#f5bd6c" points="727.4,1135.6 746.2,1199.8 783.1,1294.8 793.4,1336.6 824.9,1388.9 867.7,1511 892,1581.5 985,1829.9 985,1919.9"/>
<polyline class="ns" stroke="#ff964f" points="985,1919.9 960,1853.9 1037,2061.5 1050,2053.1"/>
<polyline class="ns" stroke="#ff743b" points="1050,2053.1 997,2119.1 1000,2133.5 1100,2309.9"/>
<polyline class="ns" stroke="#ff5a2d" points="1050,2053.1 833,1851.5 812,1825.1 747,1869.5 637,1791.5"/>
<polyline class="ns" stroke="#ff3018" points="637,1791.5 728,1887.5 605,1799.9 690,1733.9 647,1685.9"/>
<polyline class="ns" stroke="#ff0a05" points="647,1685.9 658.9,1511 671.9,1378.9"/>
</g>
<path class="ns" stroke="#000" stroke-width="8" d="M328,1909.1h.01M332,1897.1h.01M347,1889.9h.01M335,1881.5h.01M356,1853.9h.01M378,1837.1h.01M385,1813.1h.01M445,1755.5h.01M500,1613.9h.01M549.4,1478.7h.01M585.3,1340h.01M559.6,1132.3h.01M553.8,1031h.01M584.6,1048.7h.01M603.1,1061h.01M622.6,1129.4h.01M643.5,1225.9h.01M646.2,1261.5h.01M659.6,1279.1h.01M640.1,1256.8h.01M648.6,1217.8h.01M631.9,1119.9h.01M605.2,1012.1h.01M600,1019.2h.01M605.2,994.5h.01M581.9,948.9h.01M596.6,899h.01M640.1,964.6h.01M689.7,1061h.01M670.9,988.3h.01M687.3,987.4h.01M695.9,982.6h.01M711.9,1103.8h.01M718.1,1121.4h.01M727.4,1135.6h.01M732.5,1136.6h.01M735.9,1152.2h.01M735.2,1159.4h.01M747.9,1192.6h.01M746.2,1199.8h.01M758.2,1207.8h.01M783.1,1294.8h.01M811.2,1305.7h.01M793.4,1336.6h.01M819.8,1339h.01M764.3,1364.6h.01M859.8,1370.8h.01M824.9,1388.9h.01M856.7,1405.5h.01M828.3,1419.7h.01M892,1581.5h.01M985,1829.9h.01M960,1853.9h.01M985,1919.9h.01M1037,2061.5h.01M1050,2053.1h.01M997,2119.1h.01M1000,2133.5h.01M1100,2309.9h.01M833,1851.5h.01M812,1825.1h.01M747,1869.5h.01M728,1887.5h.01M637,1791.5h.01M605,1799.9h.01M690,1733.9h.01M647,1685.9h.01"/>
</g>
<circle cx="2104" cy="967.5" r="13" fill="#fff" stroke="#000" stroke-width="4.8"/>
<circle cx="2104" cy="967.5" r="3.6" fill="#000"/>
<rect x="1564" y="288" width="54" height="42" fill="#fff"/>
<text x="1567" y="321" font-size="38" font-weight="bold">d)</text>
<!-- legend -->
<rect x="1564" y="1630.5" width="526" height="361" rx="8" ry="8" fill="#fff" fill-opacity="0.8" stroke="#cccccc" stroke-width="2.5"/>
<line x1="1580" y1="1690" x2="1664" y2="1690" stroke="#000" stroke-width="3.5" stroke-dasharray="11 6"/>
<circle cx="1622.4" cy="1772" r="16" fill="#fff" stroke="#000" stroke-width="6.5"/>
<circle cx="1622.4" cy="1772" r="3.5" fill="#000"/>
<rect x="1581" y="1817" width="83" height="29" fill="#efefef" stroke="#808080" stroke-width="3"/>
<rect x="1581" y="1878" width="83" height="29" fill="#dadada" stroke="#808080" stroke-width="3"/>
<rect x="1581" y="1939" width="83" height="29" fill="#c6c6c6" stroke="#808080" stroke-width="3"/>
<g font-size="41.5">
<text x="1698" y="1680">Rossby radius</text>
<text x="1698" y="1724">of deformation</text>
<text x="1698" y="1787">Latest position</text>
<text x="1698" y="1846">100-200nm</text>
<text x="1698" y="1907">50-100nm</text>
<text x="1698" y="1968">0-50nm</text>
</g>
</g>
<rect x="1542.5" y="237" width="1206.5" height="1777.4" fill="none" stroke="#000" stroke-width="3"/>
<path stroke="#000" stroke-width="2.7" d="M1529 591.4H1542.5M1529 985.6H1542.5M1529 1379.7H1542.5M1529 1773.6H1542.5M1894 2014.4v13.5M2255.3 2014.4v13.5M2615.6 2014.4v13.5"/>
<g class="tk" text-anchor="end">
<text x="1512" y="606">11°S</text><text x="1512" y="1000">12°S</text><text x="1512" y="1394">13°S</text><text x="1512" y="1788">14°S</text>
</g>
<g class="tk" text-anchor="middle">
<text x="1894" y="2076">79°W</text><text x="2255.3" y="2076">78°W</text><text x="2615.6" y="2076">77°W</text>
</g>
<g font-size="33.5" style="white-space:pre">
<text x="1518" y="2152" xml:space="preserve">Source: ARGO GDAC    Processing: IGP    Latest data: 31JAN2026</text>
<text x="1518" y="2202">a)GODAS clim:1991-2020, b)ORAS5 clim:1991-2020, c)IMARPE clim:1991-2020</text>
<text x="1518" y="2240">3-point running mean</text>
</g>
</svg>
</body></html>
